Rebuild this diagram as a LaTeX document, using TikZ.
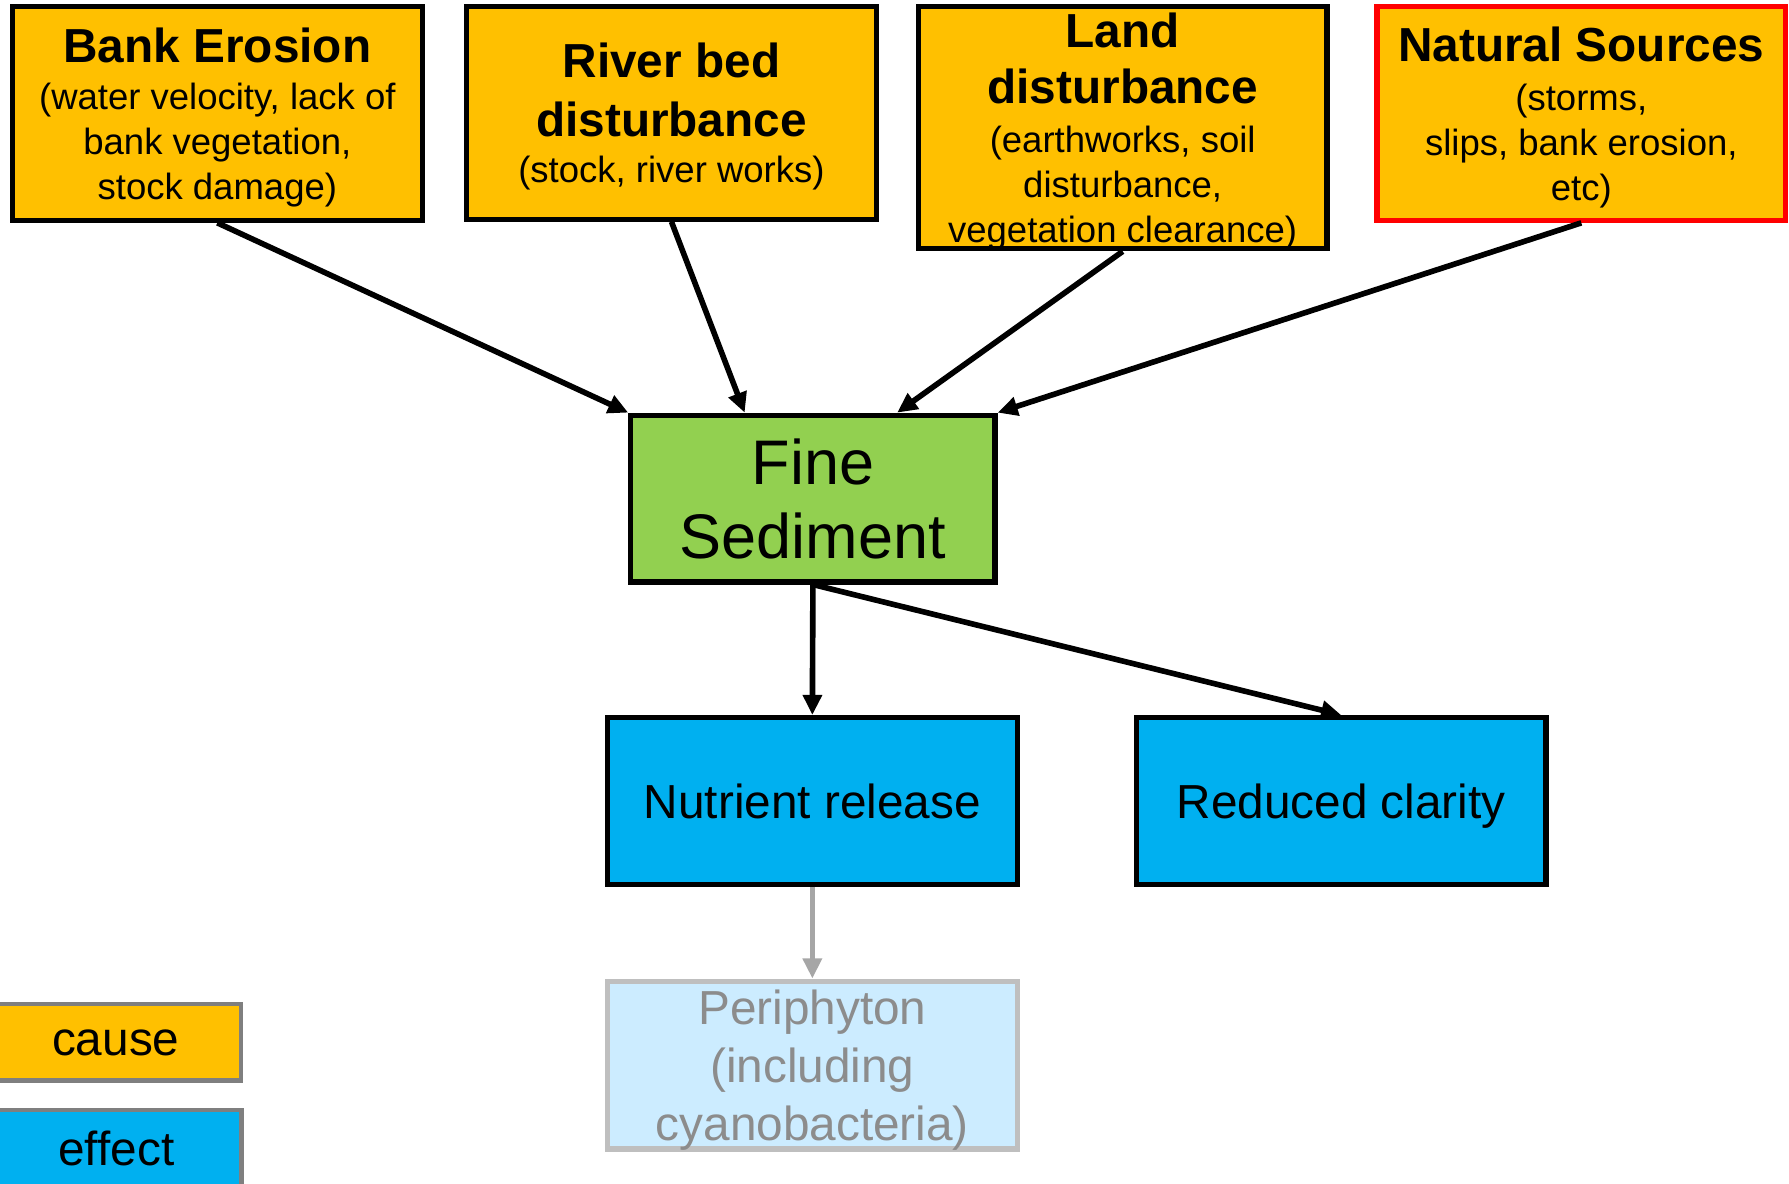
\documentclass[tikz,border=0pt]{standalone}
\usepackage{fontspec}
\setmainfont{Liberation Sans}
\usepackage{xcolor}
\usepackage{tikz}
\usetikzlibrary{arrows.meta}

\definecolor{causeorange}{HTML}{FFC000}
\definecolor{sedgreen}{HTML}{92D050}
\definecolor{effectblue}{HTML}{00B0F0}
\definecolor{paleblue}{HTML}{CCECFF}
\definecolor{palegray}{HTML}{BFBFBF}
\definecolor{midgray}{HTML}{8C8C8C}
\definecolor{arrgray}{HTML}{A6A6A6}
\definecolor{keygray}{HTML}{7F7F7F}

\newcommand{\hd}[1]{{\fontsize{11.9}{14.5}\selectfont\bfseries #1}}

\tikzset{
    causebox/.style={draw=black, line width=1.3pt, fill=causeorange, align=center,
        inner sep=0pt, minimum width=3.59cm, minimum height=1.87cm, text depth=-2.4pt,
        font=\fontsize{9.1}{11.2}\selectfont},
    effectbox/.style={draw=black, line width=1.3pt, fill=effectblue, align=center,
        inner sep=0pt, minimum width=3.59cm, minimum height=1.46cm, text depth=-1pt,
        font=\fontsize{11.9}{14.5}\selectfont},
    keybox/.style={draw=keygray, line width=1.1pt, align=center, inner sep=0pt,
        minimum width=2.19cm, minimum height=0.67cm, text depth=-4.8pt,
        font=\fontsize{11.9}{14.5}\selectfont},
    arr/.style={line width=1.4pt, -{Triangle[length=5pt, width=4.6pt]}}
}

\begin{document}
\begin{tikzpicture}[x=0.01cm, y=-0.01cm]
        \useasboundingbox (0, 0) rectangle (1568, 1037);

        % causes
        \node[causebox] (bank) at (190.5, 99.5)
            {\hd{Bank Erosion}\\[0.5pt](water velocity, lack of\\bank vegetation,\\stock damage)};
        \node[causebox, minimum height=1.86cm] (river) at (588.5, 99)
            {\hd{River bed}\\[3.3pt]\hd{disturbance}\\[0.4pt](stock, river works)};
        \node[causebox, minimum width=3.58cm, minimum height=2.12cm] (land) at (984, 112)
            {\hd{Land}\\[2.7pt]\hd{disturbance}\\[1pt](earthworks, soil\\disturbance,\\vegetation clearance)};
        \node[causebox, draw=red, minimum width=3.58cm] (nat) at (1386, 99.5)
            {\hd{Natural Sources}\\[1pt](storms,\\slips, bank erosion,\\etc)};

        % sediment
        \node[causebox, fill=sedgreen, minimum width=3.19cm, minimum height=1.46cm,
            text depth=-1.1pt, font=\fontsize{15.7}{18.5}\selectfont] (fs) at (712.5, 437)
            {Fine\\Sediment};

        % effects
        \node[effectbox] (nutr) at (712, 702) {Nutrient release};
        \node[effectbox] (clar) at (1175.5, 702) {Reduced clarity};
        \node[effectbox, draw=palegray, fill=paleblue, text=midgray, minimum height=1.47cm]
            (peri) at (712, 933.5) {Periphyton\\(including\\cyanobacteria)};

        % key
        \node[keybox, fill=causeorange] (keycause) at (101.5, 913.5) {cause};
        \node[keybox, fill=effectblue] (keyeffect) at (102, 1006.5) {effect};

        \draw[arr] (bank.south) -- (fs.north west);
        \draw[arr] (river.south) -- ([xshift=1.02cm]fs.north west);
        \draw[arr] (land.south) -- ([xshift=-0.88cm]fs.north east);
        \draw[arr] (nat.south) -- (fs.north east);
        \draw[arr] (fs.south) -- (nutr.north);
        \draw[arr] (fs.south) -- (clar.north);
        \draw[arr, color=arrgray] (nutr.south) -- (peri.north);
\end{tikzpicture}
\end{document}
